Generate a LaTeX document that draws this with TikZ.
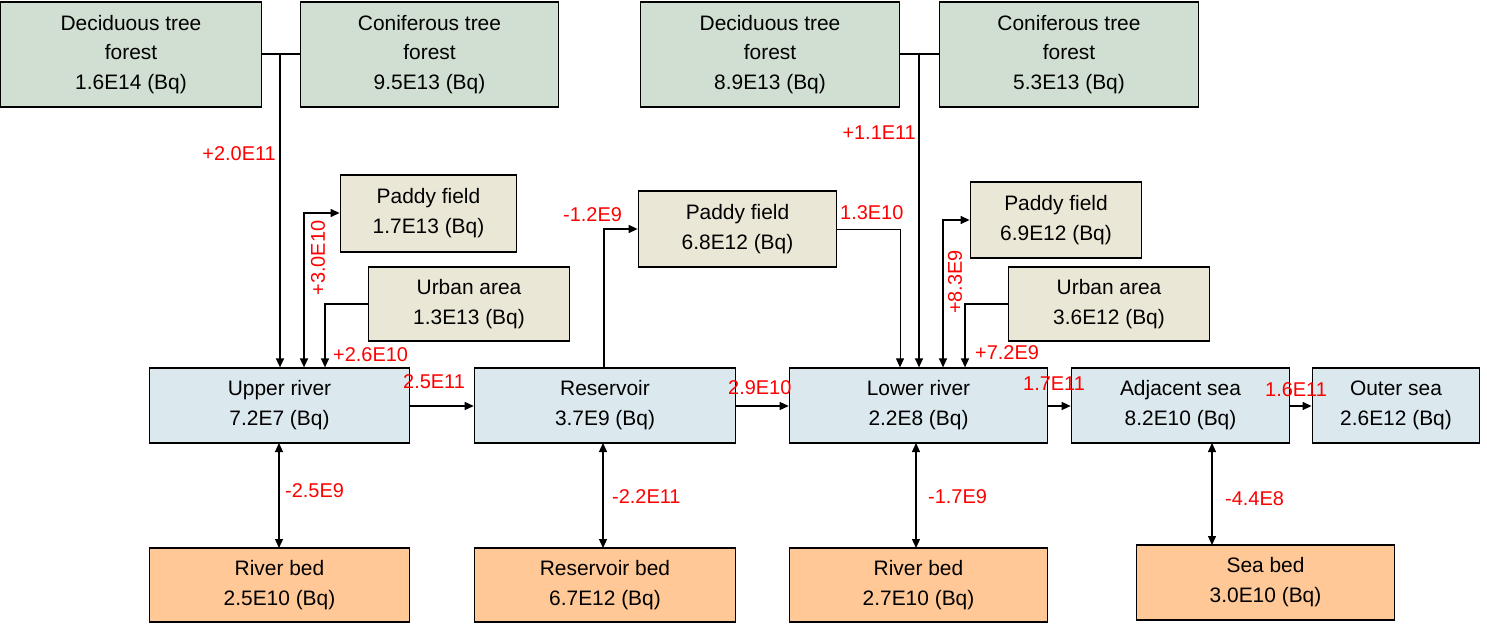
\documentclass[tikz,border=0pt]{standalone}
\usepackage{fontspec}
\setmainfont{Liberation Sans}
\usetikzlibrary{arrows.meta}
\definecolor{cgreen}{HTML}{D0DFD2}
\definecolor{ctan}{HTML}{EBE7D6}
\definecolor{cblue}{HTML}{DBE8EE}
\definecolor{corange}{HTML}{FFC896}
\begin{document}
\begin{tikzpicture}[x=1bp,y=-1bp,
  box/.style={draw,line width=1.5bp,align=center,inner sep=0,font=\fontsize{21}{30}\selectfont},
  lab/.style={text=red,inner sep=0,font=\fontsize{20}{24}\selectfont},
  con/.style={line width=1.3bp,-{Triangle[length=9bp,width=8bp]}},
  dcon/.style={line width=1.3bp,{Triangle[length=9bp,width=8bp]}-{Triangle[length=9bp,width=8bp]}}]
\useasboundingbox (0,0) rectangle (1487,631);
\newcommand\bx[7]{\node[box,fill=#6,minimum width={#3-#2},minimum height={#5-#4}] (#1) at ({(#2+#3)/2},{(#4+#5)/2}) {#7};}
\bx{f1}{0}{262}{2}{107}{cgreen}{Deciduous tree\\forest\\1.6E14 (Bq)}
\bx{f2}{300}{559}{2}{107}{cgreen}{Coniferous tree\\forest\\9.5E13 (Bq)}
\bx{f3}{640}{900}{2}{107}{cgreen}{Deciduous tree\\forest\\8.9E13 (Bq)}
\bx{f4}{939}{1199}{2}{107}{cgreen}{Coniferous tree\\forest\\5.3E13 (Bq)}
\bx{p1}{340}{517}{175}{252}{ctan}{Paddy field\\1.7E13 (Bq)}
\bx{u1}{368}{570}{267}{341}{ctan}{Urban area\\1.3E13 (Bq)}
\bx{p2}{638}{837}{191}{267}{ctan}{Paddy field\\6.8E12 (Bq)}
\bx{p3}{970}{1142}{182}{258}{ctan}{Paddy field\\6.9E12 (Bq)}
\bx{u2}{1008}{1210}{267}{341}{ctan}{Urban area\\3.6E12 (Bq)}
\bx{ur}{149}{410}{368}{443}{cblue}{Upper river\\7.2E7 (Bq)}
\bx{rs}{474}{736}{368}{443}{cblue}{Reservoir\\3.7E9 (Bq)}
\bx{lr}{789}{1048}{368}{443}{cblue}{Lower river\\2.2E8 (Bq)}
\bx{as}{1071}{1290}{368}{443}{cblue}{Adjacent sea\\8.2E10 (Bq)}
\bx{os}{1312}{1480}{368}{443}{cblue}{Outer sea\\2.6E12 (Bq)}
\bx{b1}{149}{410}{548}{622}{corange}{River bed\\2.5E10 (Bq)}
\bx{b2}{474}{736}{548}{622}{corange}{Reservoir bed\\6.7E12 (Bq)}
\bx{b3}{789}{1048}{548}{622}{corange}{River bed\\2.7E10 (Bq)}
\bx{b4}{1136}{1395}{545}{620}{corange}{Sea bed\\3.0E10 (Bq)}
% left group
\draw[line width=1.3bp] (f1.east|-0,54) -- (f2.west|-0,54);
\coordinate (j1) at (280,54);
\draw[con] (j1) -- (j1|-ur.north);
\coordinate (k1) at (304,213);
\draw[dcon] (k1|-ur.north) -- (k1) -- (p1.west|-k1);
\coordinate (m1) at (325,304);
\draw[con] (u1.west|-m1) -- (m1) -- (m1|-ur.north);
\draw[con] (ur.east|-0,406) -- (rs.west|-0,406);
\coordinate (k2) at (604,229);
\draw[con] (k2|-rs.north) -- (k2) -- (p2.west|-k2);
\coordinate (m2) at (900,229);
\draw[con,line width=1bp] (p2.east|-m2) -- (m2) -- (m2|-lr.north);
\draw[line width=1.3bp] (f3.east|-0,54) -- (f4.west|-0,54);
\coordinate (j2) at (919,54);
\draw[con] (j2) -- (j2|-lr.north);
\coordinate (k3) at (943,220);
\draw[dcon] (k3|-lr.north) -- (k3) -- (p3.west|-k3);
\coordinate (m3) at (965,304);
\draw[con] (u2.west|-m3) -- (m3) -- (m3|-lr.north);
\draw[con] (rs.east|-0,406) -- (lr.west|-0,406);
\draw[con] (lr.east|-0,406) -- (as.west|-0,406);
\draw[con] (as.east|-0,406) -- (os.west|-0,406);
\draw[dcon] (279,443) -- (279,548);
\draw[dcon] (603,443) -- (603,548);
\draw[dcon] (916,443) -- (916,548);
\draw[dcon] (1212,443) -- (1212,545);
% labels
\node[lab,anchor=east] at (276,154) {+2.0E11};
\node[lab,rotate=90] at (318,258) {+3.0E10};
\node[lab,anchor=west] at (333,355) {+2.6E10};
\node[lab,anchor=west] at (403,382) {2.5E11};
\node[lab,anchor=west] at (563,215) {-1.2E9};
\node[lab,anchor=west] at (840,213) {1.3E10};
\node[lab,anchor=east] at (916,133) {+1.1E11};
\node[lab,rotate=90] at (955,282) {+8.3E9};
\node[lab,anchor=west] at (975,353) {+7.2E9};
\node[lab,anchor=west] at (728,388) {2.9E10};
\node[lab,anchor=west] at (1023,384) {1.7E11};
\node[lab,anchor=west] at (1265,390) {1.6E11};
\node[lab,anchor=west] at (285,491) {-2.5E9};
\node[lab,anchor=west] at (612,497) {-2.2E11};
\node[lab,anchor=west] at (928,497) {-1.7E9};
\node[lab,anchor=west] at (1225,499) {-4.4E8};
\end{tikzpicture}
\end{document}
